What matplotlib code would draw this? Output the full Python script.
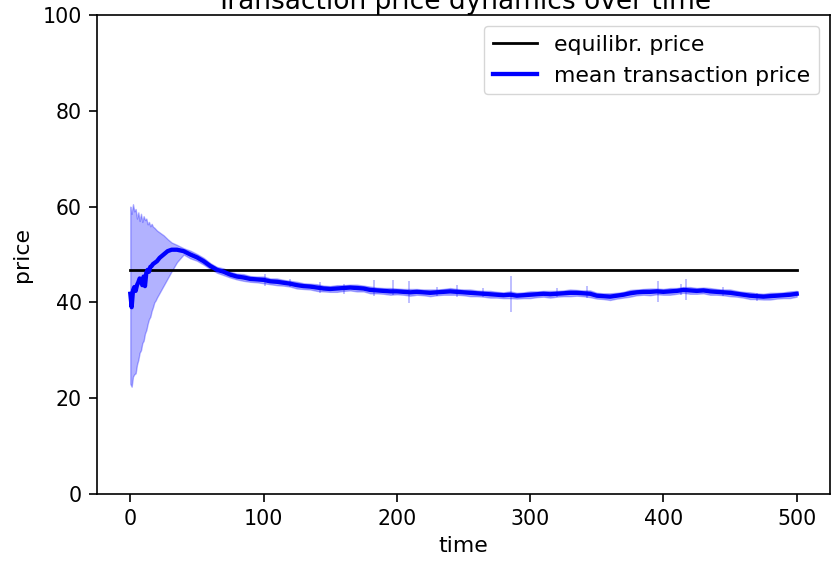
import numpy as np
import matplotlib
matplotlib.use("Agg")
import matplotlib.pyplot as plt

# equilibrium price
equilibrium_price = 46.7

# early phase (wide spread of transaction prices)
early_t = [0, 1, 2, 3, 4, 5, 6, 7, 8, 9, 10, 11, 12, 13, 14, 15, 16, 17, 18, 19, 20,
           22, 25, 28, 31, 35, 40]
early_mean = [41.8, 39.0, 42.5, 43.2, 42.4, 43.6, 44.2, 45.0, 44.8, 43.6, 45.4, 43.4,
              46.2, 46.8, 46.4, 47.4, 47.6, 48.0, 48.2, 48.4, 48.6,
              49.3, 50.0, 50.7, 51.0, 51.0, 50.7]
early_lo = [23.0, 22.4, 24.5, 25.0, 25.2, 27.0, 28.0, 29.5, 30.0, 31.5, 32.0, 33.5,
            34.2, 35.5, 36.5, 37.0, 38.2, 39.0, 40.0, 40.4, 41.0,
            42.0, 43.5, 45.0, 46.5, 48.4, 50.0]
early_hi = [60.0, 58.5, 60.5, 59.0, 59.5, 57.5, 58.8, 57.0, 58.5, 56.8, 58.0, 57.2,
            57.5, 56.3, 56.8, 55.9, 56.4, 55.8, 55.6, 55.3, 55.0,
            54.6, 54.0, 53.2, 52.5, 52.0, 51.3]

# later phase, sampled every 5 time steps
late_t = list(range(45, 501, 5))
late_mean = [50.0, 49.4, 48.6, 47.6, 46.8, 46.4, 45.8, 45.4, 45.2, 44.9, 44.8, 44.7,
             44.4, 44.3, 44.1, 43.9, 43.6, 43.4, 43.3, 43.1, 42.9, 42.8, 42.9, 43.0,
             43.1, 43.0, 42.9, 42.6, 42.5, 42.4, 42.3, 42.3, 42.2, 42.1, 42.2, 42.1,
             42.0, 42.1, 42.2, 42.3, 42.2, 42.1, 42.0, 41.9, 41.8, 41.7, 41.6, 41.5,
             41.6, 41.4, 41.5, 41.6, 41.7, 41.8, 41.7, 41.8, 41.9, 42.0, 42.0, 41.9,
             41.8, 41.4, 41.3, 41.2, 41.4, 41.6, 41.9, 42.1, 42.2, 42.2, 42.3, 42.2,
             42.3, 42.4, 42.6, 42.5, 42.4, 42.5, 42.3, 42.2, 42.1, 42.0, 41.8, 41.6,
             41.4, 41.3, 41.2, 41.3, 41.4, 41.5, 41.6, 41.8]
late_spread = [0.8, 0.7, 0.7, 0.6, 0.6, 0.7, 0.6, 0.6, 0.7, 0.6, 0.6, 0.7,
               0.6, 0.7, 0.6, 0.6, 0.7, 0.6, 0.6, 0.7, 0.6, 0.6, 0.7, 0.6,
               0.6, 0.7, 0.6, 0.7, 0.6, 0.6, 0.7, 0.6, 0.6, 0.7, 0.6, 0.6,
               0.7, 0.6, 0.6, 0.7, 0.6, 0.6, 0.7, 0.6, 0.6, 0.7, 0.6, 0.6,
               0.7, 0.6, 0.6, 0.7, 0.6, 0.6, 0.7, 0.6, 0.6, 0.7, 0.6, 0.6,
               0.7, 0.6, 0.6, 0.7, 0.6, 0.6, 0.7, 0.6, 0.6, 0.7, 0.6, 0.6,
               0.7, 0.6, 0.6, 0.7, 0.6, 0.6, 0.7, 0.6, 0.6, 0.7, 0.6, 0.6,
               0.7, 0.6, 0.6, 0.7, 0.6, 0.6, 0.7, 0.6]

# occasional outliers in the transaction spread
spike_t = [101, 120, 142, 160, 183, 197, 209, 230, 245, 265, 286, 320, 343, 396, 413, 417, 445, 470]
spike_lo = [43.5, 43.2, 42.0, 41.8, 41.3, 41.6, 39.9, 41.4, 41.2, 41.2, 38.1, 41.2, 41.0, 40.0, 41.5, 40.6, 41.4, 40.2]
spike_hi = [46.0, 44.8, 44.2, 43.9, 44.6, 44.6, 44.4, 43.3, 43.6, 43.0, 45.5, 43.0, 43.4, 44.4, 43.9, 44.9, 43.2, 41.9]

t = np.array(early_t + late_t)
mean = np.array(early_mean + late_mean)
lo = np.array(early_lo + [m - s for m, s in zip(late_mean, late_spread)])
hi = np.array(early_hi + [m + s for m, s in zip(late_mean, late_spread)])

plt.rcParams['font.size'] = 15.8
plt.rcParams['axes.linewidth'] = 1.2
for k in ('xtick', 'ytick'):
    plt.rcParams[k + '.labelsize'] = 14.8
    plt.rcParams[k + '.major.width'] = 1.2
    plt.rcParams[k + '.major.size'] = 5.8
    plt.rcParams[k + '.major.pad'] = 5

fig = plt.figure(figsize=(8.31, 5.61), dpi=100)
ax = fig.add_axes([97 / 831, 1 - 494 / 561, (830 - 97) / 831, (494 - 15) / 561])

ax.plot([t[0], t[-1]], [equilibrium_price, equilibrium_price], color='black', lw=2.0,
        label='equilibr. price')
ax.fill_between(t, lo, hi, color='blue', alpha=0.3, lw=1.0)
ax.vlines(spike_t, spike_lo, spike_hi, color='blue', alpha=0.3, lw=1.2)
ax.plot(t, mean, color='blue', lw=3.1, label='mean transaction price')

ax.set_ylim(0, 100)
ax.set_xticks([0, 100, 200, 300, 400, 500])
ax.set_xlabel('time', labelpad=5)
ax.set_ylabel('price', labelpad=8)
ax.set_title('Transaction price dynamics over time', pad=4)
ax.legend(loc='upper right')

fig.savefig('out.png', dpi=100)
